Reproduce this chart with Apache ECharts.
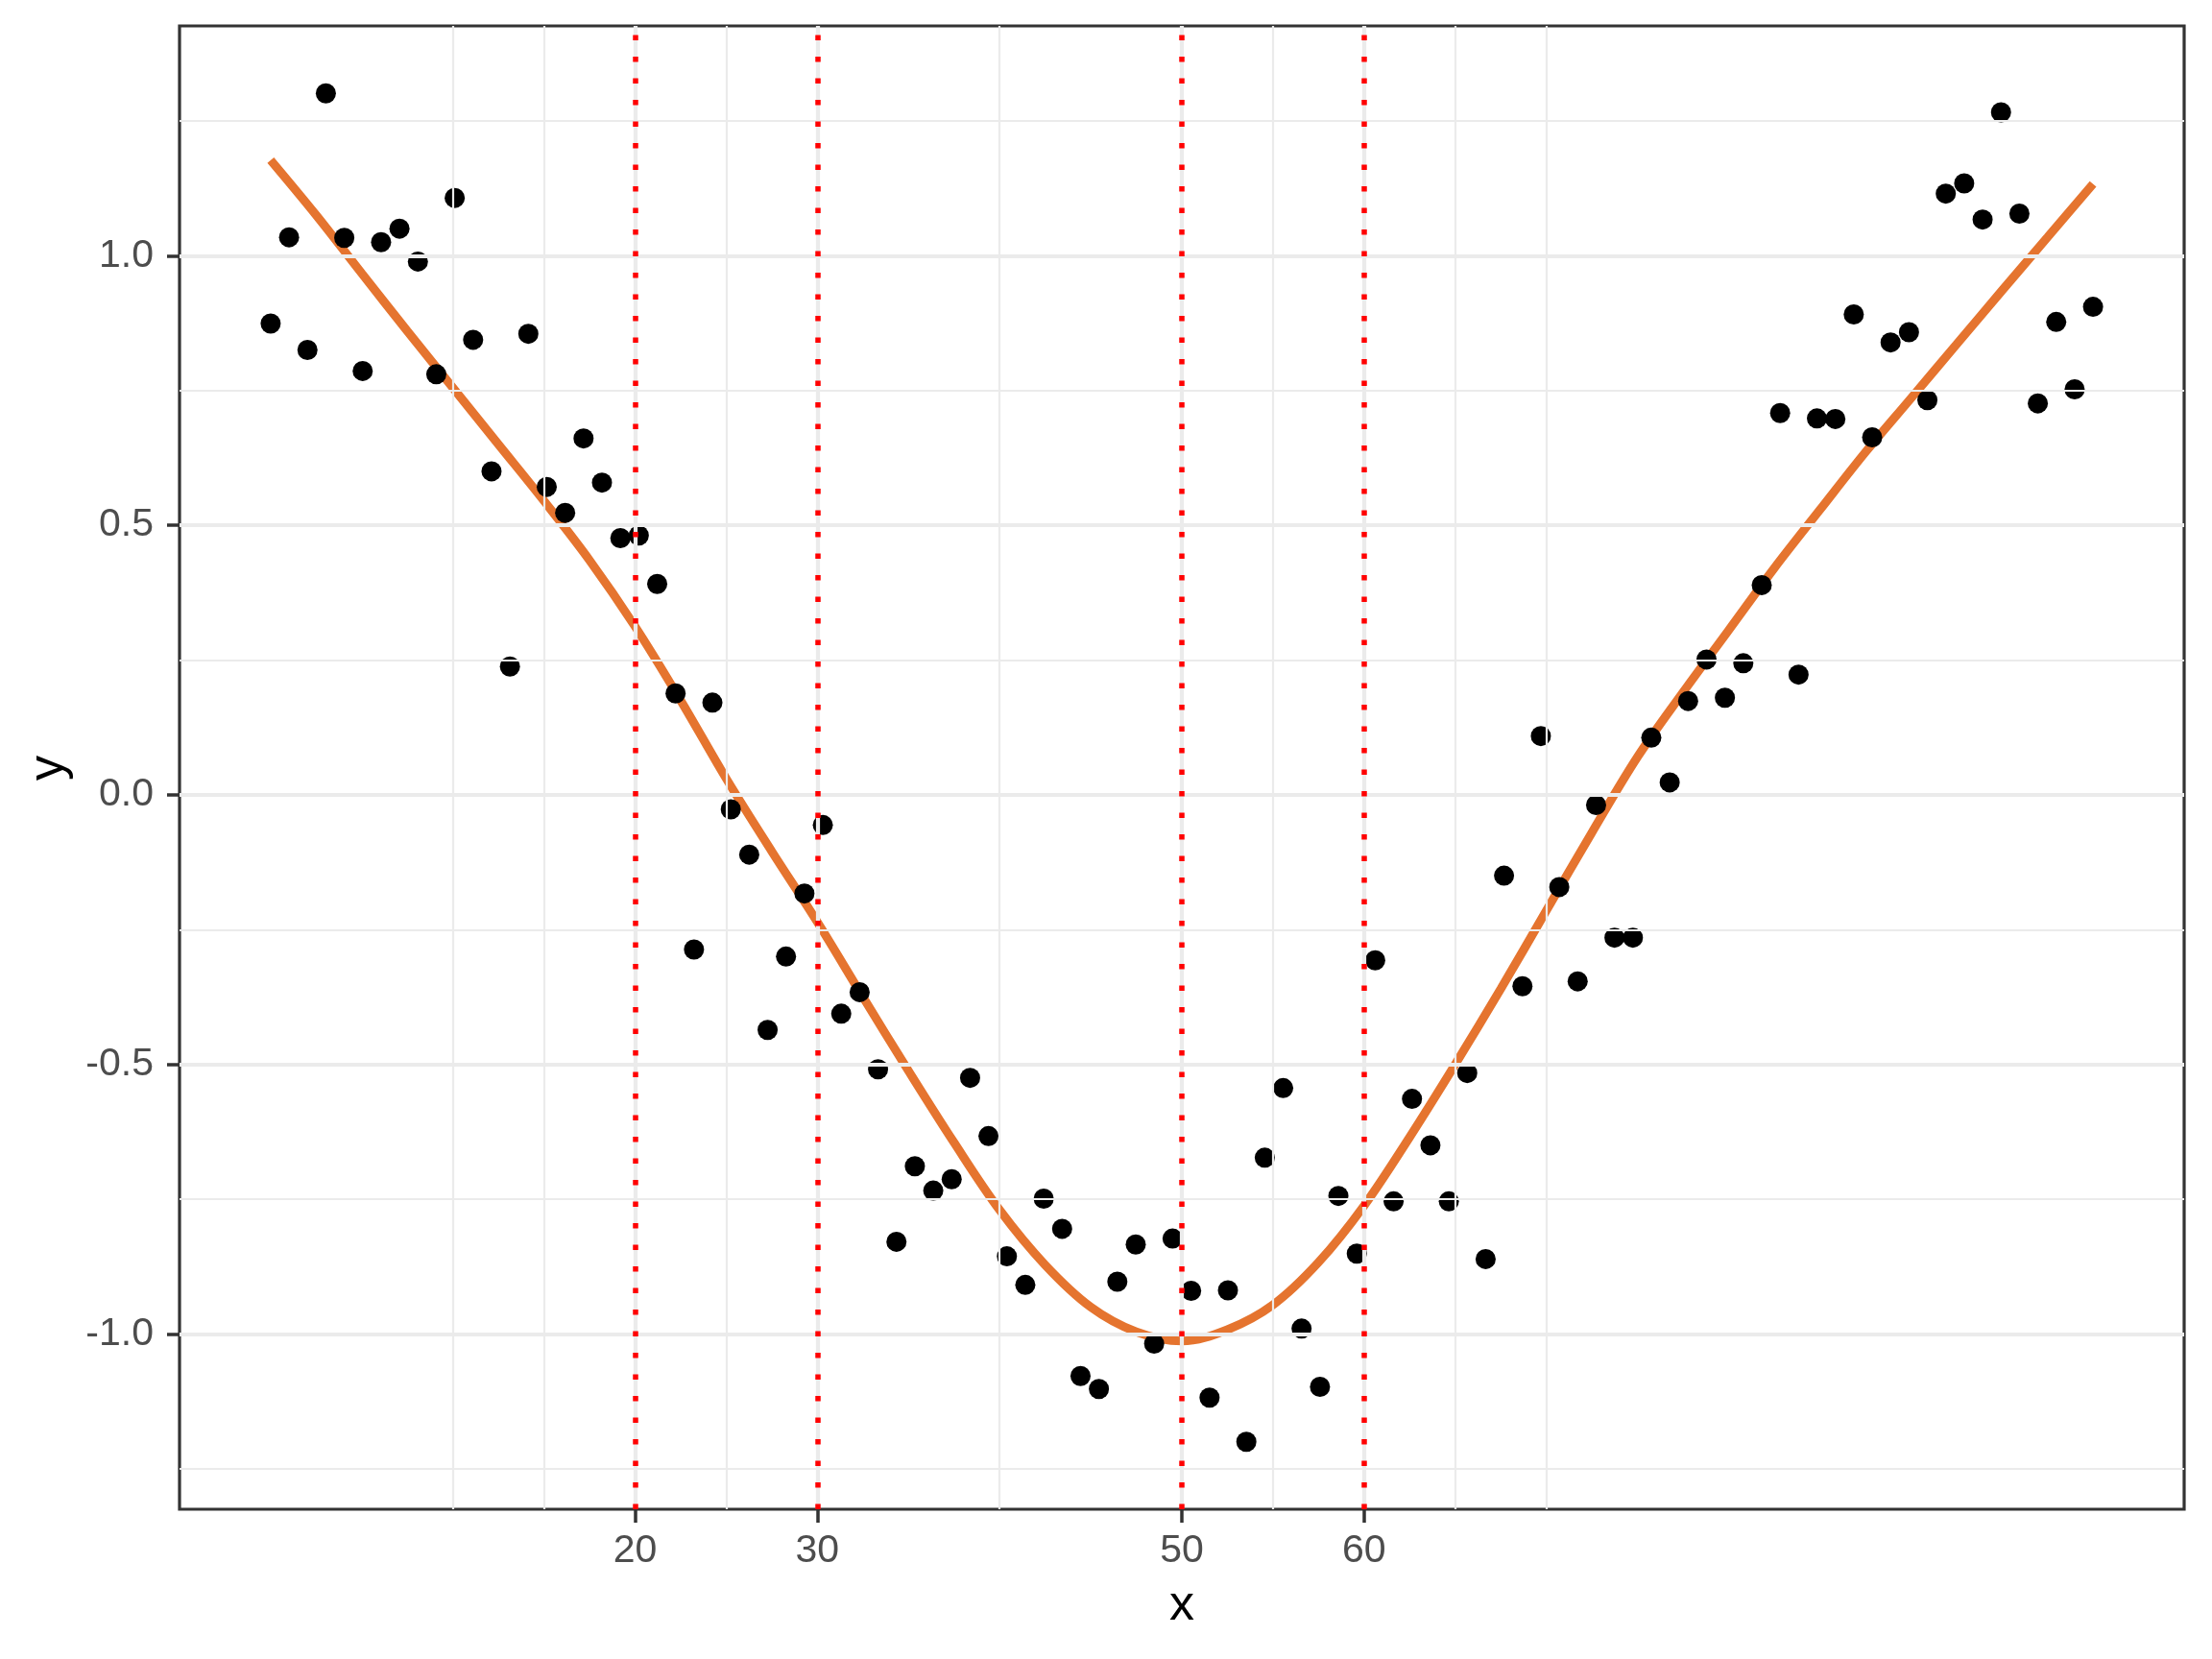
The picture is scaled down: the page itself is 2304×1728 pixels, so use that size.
<!DOCTYPE html>
<html>
<head>
<meta charset="utf-8">
<script src="https://cdn.jsdelivr.net/npm/echarts@6/dist/echarts.min.js"></script>
<style>
html,body{margin:0;padding:0;background:#fff;}
#chart{width:2304px;height:1728px;}
</style>
</head>
<body>
<div id="chart"></div>
<script>
// ---- data ----
const xValues = [0,1.01,2.02,3.03,4.04,5.05,6.06,7.07,8.08,9.09,10.10,11.11,12.12,13.13,14.14,15.15,16.16,17.17,18.18,19.19,
  20.20,21.21,22.22,23.23,24.24,25.25,26.26,27.27,28.28,29.29,30.30,31.31,32.32,33.33,34.34,35.35,36.36,37.37,38.38,39.39,
  40.40,41.41,42.42,43.43,44.44,45.45,46.46,47.47,48.48,49.49,50.51,51.52,52.53,53.54,54.55,55.56,56.57,57.58,58.59,59.60,
  60.61,61.62,62.63,63.64,64.65,65.66,66.67,67.68,68.69,69.70,70.71,71.72,72.73,73.74,74.75,75.76,76.77,77.78,78.79,79.80,
  80.81,81.82,82.83,83.84,84.85,85.86,86.87,87.88,88.89,89.90,90.91,91.92,92.93,93.94,94.95,95.96,96.97,97.98,98.99,100];
const yValues = [0.874,1.034,0.825,1.301,1.033,0.786,1.025,1.050,0.989,0.780,
  1.107,0.844,0.600,0.238,0.855,0.571,0.523,0.661,0.579,0.476,
  0.481,0.391,0.188,-0.287,0.171,-0.027,-0.111,-0.436,-0.300,-0.183,
  -0.056,-0.406,-0.366,-0.509,-0.829,-0.689,-0.734,-0.713,-0.525,-0.633,
  -0.856,-0.909,-0.749,-0.805,-1.078,-1.102,-0.903,-0.834,-1.018,-0.823,
  -0.920,-1.118,-0.919,-1.200,-0.673,-0.544,-0.990,-1.098,-0.744,-0.851,
  -0.307,-0.754,-0.564,-0.650,-0.754,-0.516,-0.861,-0.150,-0.355,0.109,
  -0.171,-0.346,-0.019,-0.265,-0.265,0.106,0.023,0.174,0.251,0.180,
  0.244,0.389,0.708,0.223,0.698,0.697,0.891,0.663,0.839,0.858,
  0.732,1.115,1.134,1.067,1.266,1.078,0.726,0.877,0.752,0.905];
const smoothX = [0,2.5,5,7.5,10,12.5,15,17.5,20,22.5,25,27.5,30,32.5,35,37.5,40,42.5,45,47.5,
  50,52.5,55,57.5,60,62.5,65,67.5,70,72.5,75,77.5,80,82.5,85,87.5,90,92.5,95,97.5,100];
const smoothY = [1.177,1.075,0.967,0.860,0.755,0.650,0.545,0.435,0.312,0.175,
  0.030,-0.105,-0.236,-0.375,-0.512,-0.645,-0.770,-0.872,-0.950,-0.996,
  -1.013,-0.992,-0.946,-0.867,-0.762,-0.635,-0.500,-0.360,-0.215,-0.070,
  0.070,0.190,0.305,0.420,0.528,0.635,0.735,0.835,0.935,1.034,1.133];
const vlineX = [20, 30, 50, 60];
const xBreaks = [20, 30, 50, 60];
const xLabels = ['20', '30', '50', '60'];
const xMinorBreaks = [10, 15, 20, 25, 30, 40, 50, 55, 60, 65, 70];
const yBreaks = [-1, -0.5, 0, 0.5, 1];
const yLabels = ['-1.0', '-0.5', '0.0', '0.5', '1.0'];
const yMinorBreaks = [-1.25, -0.75, -0.25, 0.25, 0.75, 1.25];

// ---- styling / layout ----
const FONT = "'Liberation Sans', Arial, Helvetica, sans-serif";
const GRID_COL = '#EBEBEB';
const AXIS_COL = '#333333';
const TEXT_COL = '#4D4D4D';

const yDataMin = Math.min(...yValues.concat(smoothY));
const yDataMax = Math.max(...yValues.concat(smoothY));
const yRange = yDataMax - yDataMin;
const yMin = yDataMin - 0.05 * yRange;
const yMax = yDataMax + 0.05 * yRange;
const xDataMin = Math.min(...xValues), xDataMax = Math.max(...xValues);
const xRange = xDataMax - xDataMin;
const xMin = xDataMin - 0.05 * xRange;
const xMax = xDataMax + 0.05 * xRange;

const gridLines = [];
xMinorBreaks.forEach(v => gridLines.push({xAxis: v, lineStyle: {color: GRID_COL, width: 2.2, type: 'solid'}}));
yMinorBreaks.forEach(v => gridLines.push({yAxis: v, lineStyle: {color: GRID_COL, width: 2.2, type: 'solid'}}));
xBreaks.forEach(v => gridLines.push({xAxis: v, lineStyle: {color: GRID_COL, width: 4.2, type: 'solid'}}));
yBreaks.forEach(v => gridLines.push({yAxis: v, lineStyle: {color: GRID_COL, width: 4.2, type: 'solid'}}));

const chart = echarts.init(document.getElementById('chart'), null, {renderer: 'canvas', width: 2304, height: 1728});
chart.setOption({
  backgroundColor: '#ffffff',
  animation: false,
  grid: {left: 187, right: 29, top: 27, bottom: 156, show: true, borderColor: AXIS_COL, borderWidth: 3.2, backgroundColor: 'transparent'},
  xAxis: {
    type: 'value', min: xMin, max: xMax,
    axisLine: {show: false, onZero: false},
    splitLine: {show: false},
    axisTick: {show: true, customValues: xBreaks, length: 14, lineStyle: {color: AXIS_COL, width: 3.5}},
    axisLabel: {show: true, customValues: xBreaks, margin: 23, fontSize: 41, color: TEXT_COL, fontFamily: FONT,
      formatter: v => xLabels[xBreaks.indexOf(v)]}
  },
  yAxis: {
    type: 'value', min: yMin, max: yMax,
    axisLine: {show: false, onZero: false},
    splitLine: {show: false},
    axisTick: {show: true, customValues: yBreaks, length: 13, lineStyle: {color: AXIS_COL, width: 3.5}},
    axisLabel: {show: true, customValues: yBreaks, margin: 27, fontSize: 41, color: TEXT_COL, fontFamily: FONT,
      formatter: v => yLabels[yBreaks.indexOf(v)]}
  },
  graphic: [
    {type: 'text', x: 1231, y: 1673, style: {text: 'x', font: '52px ' + FONT, fill: '#000', align: 'center', verticalAlign: 'middle'}},
    {type: 'text', x: 51, y: 800, rotation: Math.PI / 2, style: {text: 'y', font: '52px ' + FONT, fill: '#000', align: 'center', verticalAlign: 'middle'}}
  ],
  series: [
    {
      type: 'line', data: [], z: 1, silent: true,
      markLine: {silent: true, symbol: ['none', 'none'], label: {show: false}, animation: false,
        emphasis: {disabled: true}, data: gridLines}
    },
    {
      type: 'line', z: 2, silent: true, showSymbol: false, smooth: 0.35,
      data: smoothX.map((x, i) => [x, smoothY[i]]),
      lineStyle: {color: '#E5742F', width: 9, cap: 'butt'}
    },
    {
      type: 'scatter', z: 3, silent: true, symbol: 'circle', symbolSize: 21,
      itemStyle: {color: '#000000', opacity: 1},
      data: xValues.map((x, i) => [x, yValues[i]])
    },
    {
      type: 'line', data: [], z: 4, silent: true,
      markLine: {silent: true, symbol: ['none', 'none'], label: {show: false}, animation: false,
        emphasis: {disabled: true},
        lineStyle: {color: '#FF0000', width: 5.5, type: [5.5, 17], cap: 'butt', opacity: 1},
        data: vlineX.map(v => ({xAxis: v}))}
    }
  ]
});
</script>
</body>
</html>
